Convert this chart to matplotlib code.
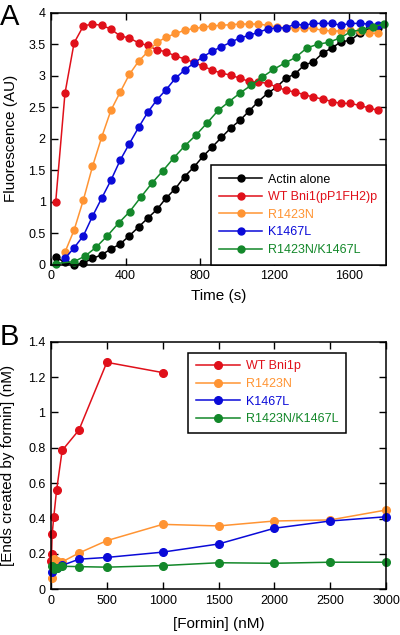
import numpy as np
import matplotlib
matplotlib.use('Agg')
import matplotlib.pyplot as plt

plt.rcParams['font.family'] = ['Liberation Sans', 'DejaVu Sans']

# ---- panel A data (time course) ----
t_main = [24, 74, 123, 173, 222, 272, 321, 371, 420, 470, 519, 569, 618, 668,
          717, 767, 816, 866, 915, 965, 1014, 1064, 1113, 1163, 1212, 1262,
          1311, 1361, 1410, 1460, 1509, 1559, 1608, 1658, 1707, 1757]
actin = [0.12, 0.04, 0.00, 0.03, 0.10, 0.16, 0.25, 0.33, 0.46, 0.60, 0.74, 0.88,
         1.06, 1.21, 1.40, 1.55, 1.72, 1.87, 2.02, 2.17, 2.29, 2.44, 2.59, 2.72,
         2.82, 2.96, 3.03, 3.17, 3.22, 3.36, 3.44, 3.54, 3.56, 3.67, 3.74, 3.76]
wt = [0.99, 2.72, 3.52, 3.79, 3.82, 3.80, 3.74, 3.63, 3.60, 3.52, 3.48, 3.41,
      3.38, 3.31, 3.27, 3.21, 3.15, 3.09, 3.04, 3.01, 2.96, 2.91, 2.90, 2.88,
      2.82, 2.77, 2.74, 2.70, 2.66, 2.63, 2.59, 2.56, 2.56, 2.53, 2.49, 2.45]
t_mut = t_main[1:]
r1423n = [0.20, 0.55, 1.03, 1.56, 2.03, 2.45, 2.74, 3.02, 3.23, 3.38, 3.53,
          3.61, 3.67, 3.72, 3.75, 3.77, 3.79, 3.80, 3.81, 3.82, 3.82, 3.82,
          3.80, 3.77, 3.76, 3.76, 3.76, 3.75, 3.72, 3.71, 3.71, 3.72, 3.71,
          3.68, 3.67]
k1467l = [0.10, 0.27, 0.46, 0.77, 1.06, 1.34, 1.66, 1.92, 2.18, 2.42, 2.62,
          2.78, 2.96, 3.09, 3.20, 3.30, 3.39, 3.46, 3.53, 3.60, 3.64, 3.69,
          3.74, 3.76, 3.76, 3.82, 3.80, 3.83, 3.83, 3.83, 3.80, 3.83, 3.83,
          3.82, 3.80]
t_dbl = [24, 123, 183, 242, 302, 362, 421, 481, 540, 600, 660, 719, 779, 838,
         898, 957, 1017, 1076, 1136, 1195, 1255, 1314, 1374, 1434, 1493, 1553,
         1612, 1672, 1732, 1791]
double = [0.02, 0.05, 0.14, 0.28, 0.46, 0.66, 0.84, 1.07, 1.29, 1.49, 1.70,
          1.89, 2.06, 2.25, 2.45, 2.59, 2.73, 2.85, 2.98, 3.10, 3.20, 3.29,
          3.44, 3.50, 3.53, 3.60, 3.70, 3.73, 3.78, 3.82]

# ---- panel B data (ends vs formin) ----
formin_wt = [1, 5, 10, 25, 50, 100, 250, 500, 1000]
ends_wt = [0.16, 0.20, 0.31, 0.41, 0.56, 0.785, 0.90, 1.283, 1.225]
formin_mut = [5, 25, 50, 100, 250, 500, 1000, 1500, 2000, 2500, 3000]
ends_r1423n = [0.065, 0.17, 0.16, 0.155, 0.205, 0.275, 0.367, 0.358, 0.386, 0.392, 0.448]
ends_k1467l = [0.10, 0.12, 0.12, 0.135, 0.17, 0.18, 0.21, 0.256, 0.345, 0.386, 0.41]
ends_double = [0.13, 0.115, 0.12, 0.13, 0.128, 0.125, 0.134, 0.15, 0.147, 0.153, 0.153]

c_black = '#000000'
c_red = '#e0101a'
c_orange = '#ff9433'
c_blue = '#0a0ad8'
c_green = '#13882a'

fig = plt.figure(figsize=(4, 6.35), dpi=100)
axA = fig.add_axes([0.128, 0.583, 0.837, 0.397])
axB = fig.add_axes([0.1275, 0.072, 0.8375, 0.390])

style = dict(marker='o', markersize=5, linewidth=1.1, clip_on=False)

axA.plot(t_main, actin, color=c_black, label='Actin alone', **style)
axA.plot(t_main, wt, color=c_red, label='WT Bni1(pP1FH2)p', **style)
axA.plot(t_mut, r1423n, color=c_orange, label='R1423N', **style)
axA.plot(t_mut, k1467l, color=c_blue, label='K1467L', **style)
axA.plot(t_dbl, double, color=c_green, label='R1423N/K1467L', **style)
axA.set_xlim(0, 1800)
axA.set_ylim(0, 4)
axA.set_xticks([0, 400, 800, 1200, 1600])
axA.set_yticks(np.arange(0, 4.01, 0.5))
axA.set_yticklabels(['0', '0.5', '1', '1.5', '2', '2.5', '3', '3.5', '4'])
axA.set_xlabel('Time (s)', fontsize=11)
axA.set_ylabel('Fluorescence (AU)', fontsize=11)
axA.xaxis.set_label_coords(0.5, -0.095)
axA.yaxis.set_label_coords(-0.098, 0.5)

style_b = dict(marker='o', markersize=5.5, linewidth=1.1, clip_on=False)
axB.plot(formin_wt, ends_wt, color=c_red, label='WT Bni1p', **style_b)
axB.plot(formin_mut, ends_r1423n, color=c_orange, label='R1423N', **style_b)
axB.plot(formin_mut, ends_k1467l, color=c_blue, label='K1467L', **style_b)
axB.plot(formin_mut, ends_double, color=c_green, label='R1423N/K1467L', **style_b)
axB.set_xlim(0, 3000)
axB.set_ylim(0, 1.4)
axB.set_xticks([0, 500, 1000, 1500, 2000, 2500, 3000])
axB.set_yticks(np.arange(0, 1.41, 0.2))
axB.set_yticklabels(['0', '0.2', '0.4', '0.6', '0.8', '1', '1.2', '1.4'])
axB.set_xlabel('[Formin] (nM)', fontsize=11)
axB.set_ylabel('[Ends created by formin] (nM)', fontsize=11)
axB.xaxis.set_label_coords(0.5, -0.112)
axB.yaxis.set_label_coords(-0.107, 0.5)

for ax in (axA, axB):
    ax.tick_params(direction='in', length=5, width=1, top=True, right=True,
                   labelsize=9, pad=4)
    for sp in ax.spines.values():
        sp.set_linewidth(1.1)

legA = axA.legend(loc='lower right', borderaxespad=0, fontsize=9,
                  handlelength=3.4, handletextpad=0.5, labelspacing=0.45,
                  borderpad=0.7, fancybox=False, framealpha=1, edgecolor='black')
legB = axB.legend(loc='upper left', bbox_to_anchor=(0.41, 0.955), borderaxespad=0,
                  fontsize=9, handlelength=3.5, handletextpad=0.5, labelspacing=0.45,
                  borderpad=0.6, fancybox=False, framealpha=1, edgecolor='black')
for leg in (legA, legB):
    leg.get_frame().set_linewidth(1.1)
    for txt, ln in zip(leg.get_texts(), leg.get_lines()):
        txt.set_color(ln.get_color())

fig.text(0.0, 0.9606, 'A', fontsize=21, va='baseline', ha='left')
fig.text(0.0, 0.4567, 'B', fontsize=21, va='baseline', ha='left')

fig.savefig('out.png', dpi=100)
